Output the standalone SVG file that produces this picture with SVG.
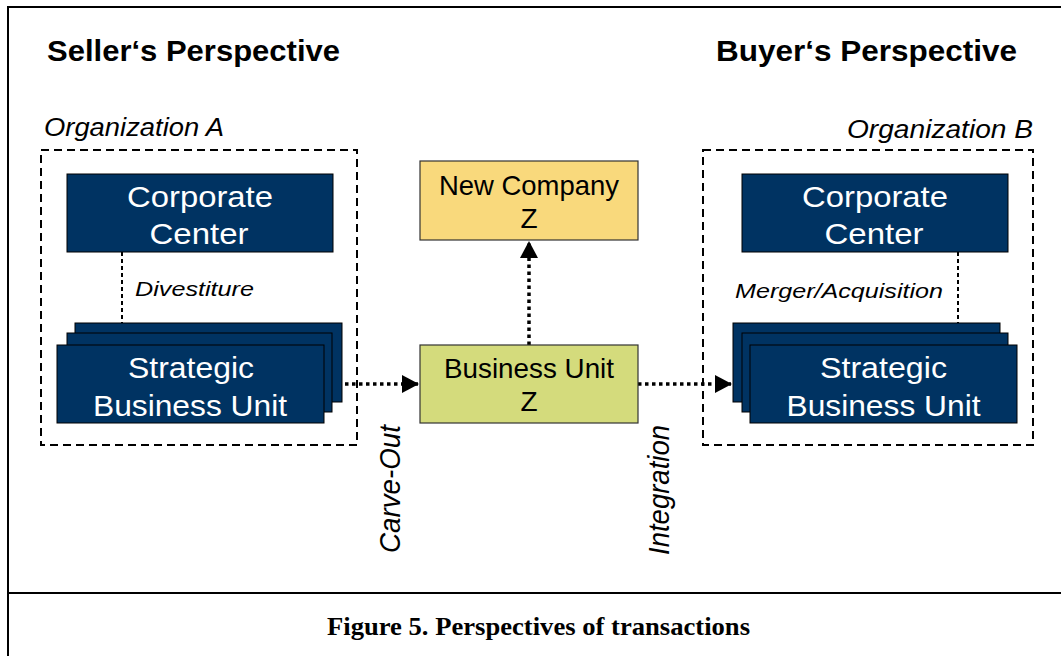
<svg xmlns="http://www.w3.org/2000/svg" width="1061" height="656" viewBox="0 0 1061 656">
<style>
.frame{fill:none;stroke:#000;stroke-width:2}
.org{fill:none;stroke:#000;stroke-width:2;stroke-dasharray:8 5}
.blue{fill:#003362;stroke:#000;stroke-width:1}
.yel{fill:#F9D97C;stroke:#333;stroke-width:1.2}
.grn{fill:#D4DB7C;stroke:#333;stroke-width:1.2}
.wt{font-family:"Liberation Sans",Arial,sans-serif;font-size:30px;fill:#fff;text-anchor:middle}
.bt{font-family:"Liberation Sans",Arial,sans-serif;font-size:28px;fill:#000;text-anchor:middle}
.title{font-family:"Liberation Sans",Arial,sans-serif;font-size:30px;font-weight:bold;fill:#000}
.it{font-family:"Liberation Sans",Arial,sans-serif;font-style:italic;fill:#000}
.cap{font-family:"Liberation Serif","Times New Roman",serif;font-size:25px;font-weight:bold;fill:#000;text-anchor:middle}
.dash{fill:none;stroke:#000;stroke-width:2;stroke-dasharray:4 3}
.dot{fill:none;stroke:#000;stroke-width:3.5;stroke-dasharray:3.5 3.5}
</style>
<defs>
<marker id="ah" markerWidth="18" markerHeight="18" refX="16" refY="9" orient="auto" markerUnits="userSpaceOnUse">
<path d="M0,0 L17,9 L0,18 Z" fill="#000"/>
</marker>
</defs>
<g id="frame">
<line class="frame" x1="8" y1="7" x2="1061" y2="7"/>
<line class="frame" x1="8" y1="6" x2="8" y2="656"/>
<line class="frame" x1="8" y1="593" x2="1061" y2="593"/>
</g>
<g id="titles">
<text class="title" x="47" y="61" textLength="293" lengthAdjust="spacingAndGlyphs">Seller‘s Perspective</text>
<text class="title" x="716" y="61" textLength="301" lengthAdjust="spacingAndGlyphs">Buyer‘s Perspective</text>
<text class="cap" x="538.5" y="635" textLength="423" lengthAdjust="spacingAndGlyphs">Figure 5. Perspectives of transactions</text>
</g>
<g id="orgA">
<rect class="org" x="41" y="150" width="316" height="295"/>
<text class="it" x="44" y="136" font-size="25" textLength="180" lengthAdjust="spacingAndGlyphs">Organization A</text>
</g>
<g id="orgB">
<rect class="org" x="703" y="150" width="330" height="295"/>
<text class="it" x="847" y="138" font-size="25" textLength="186" lengthAdjust="spacingAndGlyphs">Organization B</text>
</g>
<g id="connectors">
<line class="dash" x1="122" y1="252" x2="122" y2="323"/>
<line class="dash" x1="958" y1="252" x2="958" y2="323"/>
<line class="dot" x1="324" y1="384" x2="418" y2="384" marker-end="url(#ah)"/>
<line class="dot" x1="638" y1="384" x2="731" y2="384" marker-end="url(#ah)"/>
<line class="dot" x1="529" y1="345" x2="529" y2="242" marker-end="url(#ah)"/>
<text class="it" x="135" y="296" font-size="20" textLength="119" lengthAdjust="spacingAndGlyphs">Divestiture</text>
<text class="it" x="735" y="298" font-size="20" textLength="208" lengthAdjust="spacingAndGlyphs">Merger/Acquisition</text>
<text class="it" font-size="29" transform="translate(400,553) rotate(-90)" textLength="128" lengthAdjust="spacingAndGlyphs">Carve-Out</text>
<text class="it" font-size="29" transform="translate(669,555) rotate(-90)" textLength="130" lengthAdjust="spacingAndGlyphs">Integration</text>
</g>
<g id="ccA">
<rect class="blue" x="67" y="174" width="266" height="78"/>
<text class="wt" x="200" y="207" textLength="146" lengthAdjust="spacingAndGlyphs">Corporate</text>
<text class="wt" x="199" y="244" textLength="99" lengthAdjust="spacingAndGlyphs">Center</text>
</g>
<g id="sbuA">
<rect class="blue" x="75" y="323" width="267" height="79"/>
<rect class="blue" x="67" y="333" width="265" height="79"/>
<rect class="blue" x="57" y="345" width="267" height="78"/>
<text class="wt" x="191" y="378" textLength="126" lengthAdjust="spacingAndGlyphs">Strategic</text>
<text class="wt" x="190" y="416" textLength="194" lengthAdjust="spacingAndGlyphs">Business Unit</text>
</g>
<g id="ccB">
<rect class="blue" x="742" y="174" width="266" height="78"/>
<text class="wt" x="875" y="207" textLength="146" lengthAdjust="spacingAndGlyphs">Corporate</text>
<text class="wt" x="874" y="244" textLength="99" lengthAdjust="spacingAndGlyphs">Center</text>
</g>
<g id="sbuB">
<rect class="blue" x="733" y="323" width="267" height="79"/>
<rect class="blue" x="742" y="333" width="266" height="79"/>
<rect class="blue" x="750" y="345" width="267" height="78"/>
<text class="wt" x="883.5" y="378" textLength="127" lengthAdjust="spacingAndGlyphs">Strategic</text>
<text class="wt" x="883.5" y="416" textLength="194" lengthAdjust="spacingAndGlyphs">Business Unit</text>
</g>
<g id="newco">
<rect class="yel" x="420" y="161" width="218" height="79"/>
<text class="bt" x="529" y="195" textLength="180" lengthAdjust="spacingAndGlyphs">New Company</text>
<text class="bt" x="529" y="228">Z</text>
</g>
<g id="buz">
<rect class="grn" x="420" y="345" width="218" height="78"/>
<text class="bt" x="529" y="378" textLength="170" lengthAdjust="spacingAndGlyphs">Business Unit</text>
<text class="bt" x="529" y="411">Z</text>
</g>
</svg>
